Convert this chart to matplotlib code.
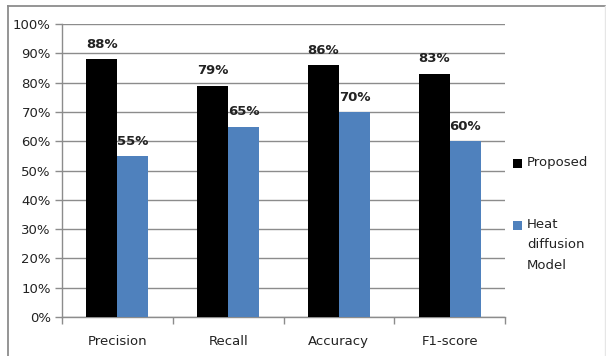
import matplotlib
matplotlib.use("Agg")
import matplotlib.pyplot as plt
import numpy as np
from matplotlib.patches import Rectangle
from matplotlib.lines import Line2D

categories = ["Precision", "Recall", "Accuracy", "F1-score"]
proposed = [88, 79, 86, 83]
heat_diffusion = [55, 65, 70, 60]
series_labels = ["Proposed", "Heat\ndiffusion\nModel"]
y_ticks = [0, 10, 20, 30, 40, 50, 60, 70, 80, 90, 100]

W, H = 606, 356
fig = plt.figure(figsize=(W / 100, H / 100), dpi=100)
fig.patch.set_facecolor("white")

# outer chart frame (top and left edges, faint right edge)
fig.add_artist(Line2D([7.5 / W, 605 / W], [(H - 6) / H, (H - 6) / H], transform=fig.transFigure,
                      color="#8c8c8c", linewidth=1.3))
fig.add_artist(Line2D([7.5 / W, 7.5 / W], [0, (H - 6) / H], transform=fig.transFigure,
                      color="#8c8c8c", linewidth=1.3))
fig.add_artist(Line2D([604.5 / W, 604.5 / W], [0, (H - 6) / H], transform=fig.transFigure,
                      color="#e6e6e6", linewidth=1.0))

ax = fig.add_axes([62 / W, (H - 317) / H, 443 / W, 293 / H])
x = np.arange(len(categories))
bw = 0.28
c_black = "#000000"
c_blue = "#4F81BD"
b1 = ax.bar(x - bw / 2, proposed, bw, color=c_black, zorder=3)
b2 = ax.bar(x + bw / 2, heat_diffusion, bw, color=c_blue, zorder=3)

for rects, vals in ((b1, proposed), (b2, heat_diffusion)):
    for r, v in zip(rects, vals):
        ax.annotate(f"{v}%", (r.get_x() + r.get_width() / 2, v), xytext=(0, 6),
                    textcoords="offset points", ha="center", va="bottom",
                    fontsize=9.5, fontweight="bold", color="#222222")

ax.set_xlim(-0.5, len(categories) - 0.5)
ax.set_ylim(0, 100)
ax.set_yticks(y_ticks)
ax.set_yticklabels([f"{t}%" for t in y_ticks], fontsize=9.5, color="#222222")
ax.yaxis.grid(True, color="#8c8c8c", linewidth=1.0, zorder=0)
ax.set_axisbelow(True)

ax.set_xticks(x)
ax.set_xticklabels(categories, fontsize=9.5, color="#222222")
ax.tick_params(axis="x", length=0, pad=13)
ax.set_xticks(np.arange(len(categories) + 1) - 0.5, minor=True)
ax.tick_params(axis="x", which="minor", length=5, color="#8c8c8c", width=1)
ax.tick_params(axis="y", length=5, color="#8c8c8c", width=1, pad=3)

for s in ("top", "right"):
    ax.spines[s].set_visible(False)
for s in ("left", "bottom"):
    ax.spines[s].set_color("#8c8c8c")
    ax.spines[s].set_linewidth(1.0)

# legend
leg_items = [(c_black, series_labels[0], 163), (c_blue, series_labels[1], 225)]
for color, label, yc in leg_items:
    fig.patches.append(Rectangle((513 / W, (H - yc - 4.5) / H), 9 / W, 9 / H,
                                 transform=fig.transFigure, facecolor=color, edgecolor="none"))
    fig.text(527 / W, (H - yc + 7) / H, label, ha="left", va="top", fontsize=9.5,
             color="#222222", linespacing=1.75)

fig.savefig("out.png", dpi=100, facecolor="white")
